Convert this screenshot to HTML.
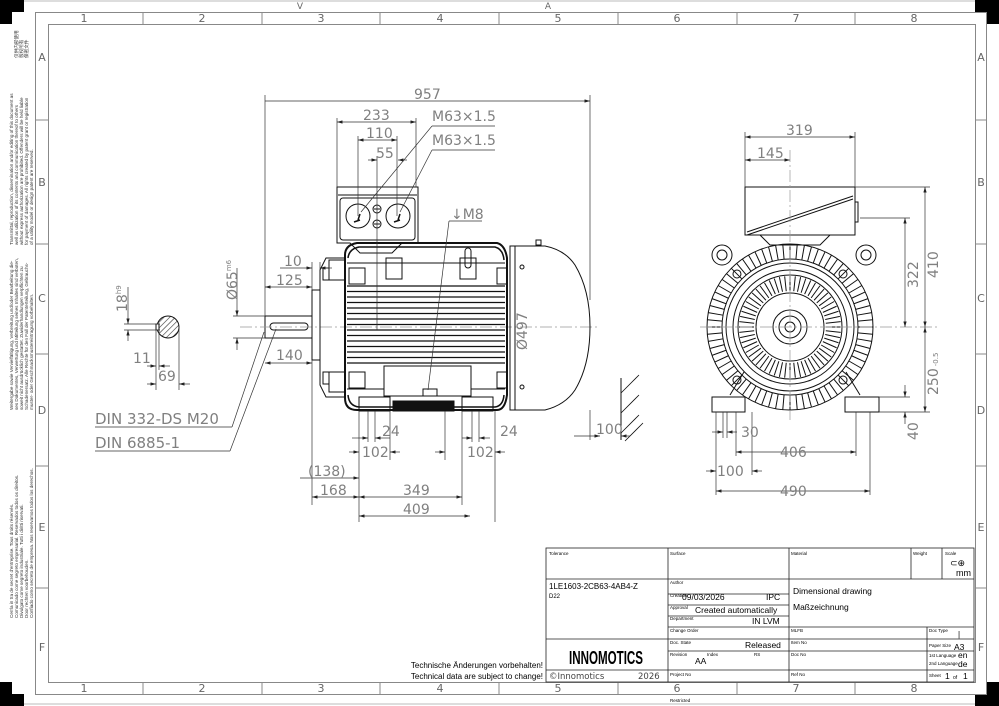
<!DOCTYPE html>
<html><head><meta charset="utf-8">
<style>
html,body{margin:0;padding:0;background:#fff;}
svg{display:block;font-family:"DejaVu Sans","Liberation Sans",sans-serif;}
.d{fill:#808080;font-size:14px;}
.t{fill:#000;font-family:"Liberation Sans",sans-serif;}
</style></head><body>
<svg id="s" width="999" height="706" viewBox="0 0 999 706" xmlns="http://www.w3.org/2000/svg">
<defs>
<marker id="a" viewBox="0 0 10 6" refX="10" refY="3" markerWidth="8" markerHeight="5" orient="auto-start-reverse"><path d="M0,0L10,3L0,6z" fill="#222"/></marker>
<pattern id="h" width="4" height="4" patternUnits="userSpaceOnUse" patternTransform="rotate(45)"><line x1="0" y1="0" x2="0" y2="4" stroke="#333" stroke-width="1.2"/></pattern>
</defs>
<line x1="0" y1="1" x2="999" y2="1" stroke="#bbb"/>
<line x1="0" y1="704" x2="999" y2="704" stroke="#bbb"/>
<path d="M0,0H24V12H12V24H0z" fill="#000"/>
<path d="M999,0H975V12H987V24H999z" fill="#000"/>
<path d="M0,706H24V694H12V682H0z" fill="#000"/>
<path d="M999,706H975V694H987V682H999z" fill="#000"/>
<rect x="35.5" y="12.5" width="951" height="682" fill="none" stroke="#888"/>
<rect x="48.5" y="24.5" width="927" height="658" fill="none" stroke="#888"/>
<g stroke="#888">
<line x1="143" y1="12" x2="143" y2="24"/><line x1="262" y1="12" x2="262" y2="24"/><line x1="380" y1="12" x2="380" y2="24"/><line x1="499" y1="12" x2="499" y2="24"/><line x1="618" y1="12" x2="618" y2="24"/><line x1="737" y1="12" x2="737" y2="24"/><line x1="855" y1="12" x2="855" y2="24"/>
<line x1="143" y1="682" x2="143" y2="694"/><line x1="262" y1="682" x2="262" y2="694"/><line x1="380" y1="682" x2="380" y2="694"/><line x1="499" y1="682" x2="499" y2="694"/><line x1="618" y1="682" x2="618" y2="694"/><line x1="737" y1="682" x2="737" y2="694"/><line x1="855" y1="682" x2="855" y2="694"/>
<line x1="35" y1="120" x2="48" y2="120"/><line x1="35" y1="244" x2="48" y2="244"/><line x1="35" y1="354" x2="48" y2="354"/><line x1="35" y1="466" x2="48" y2="466"/><line x1="35" y1="588" x2="48" y2="588"/>
<line x1="975" y1="120" x2="987" y2="120"/><line x1="975" y1="244" x2="987" y2="244"/><line x1="975" y1="354" x2="987" y2="354"/><line x1="975" y1="466" x2="987" y2="466"/><line x1="975" y1="588" x2="987" y2="588"/>
</g>
<g fill="#666" font-size="11" text-anchor="middle">
<text x="84" y="22">1</text><text x="202" y="22">2</text><text x="321" y="22">3</text><text x="440" y="22">4</text><text x="558" y="22">5</text><text x="677" y="22">6</text><text x="796" y="22">7</text><text x="914" y="22">8</text>
<text x="84" y="692">1</text><text x="202" y="692">2</text><text x="321" y="692">3</text><text x="440" y="692">4</text><text x="558" y="692">5</text><text x="677" y="692">6</text><text x="796" y="692">7</text><text x="914" y="692">8</text>
<text x="42" y="61">A</text><text x="42" y="186">B</text><text x="42" y="302">C</text><text x="42" y="414">D</text><text x="42" y="531">E</text><text x="42" y="651">F</text>
<text x="981" y="61">A</text><text x="981" y="186">B</text><text x="981" y="302">C</text><text x="981" y="414">D</text><text x="981" y="531">E</text><text x="981" y="651">F</text>
<text x="300" y="9" font-size="9">V</text><text x="548" y="9" font-size="9">A</text>
</g>
<g fill="#333" font-size="4.6" font-family="Liberation Sans,sans-serif">
<g transform="translate(13,245) rotate(-90)"><text>Transmittal, reproduction, dissemination and/or editing of this document as</text><text y="5">well as utilization of its contents and communication thereof to others</text><text y="10">without express authorization are prohibited. Offenders will be held liable</text><text y="15">for payment of damages. All rights created by patent grant or registration</text><text y="20">of a utility model or design patent are reserved.</text></g>
<g transform="translate(13,410) rotate(-90)"><text>Weitergabe sowie Vervielfältigung, Verbreitung und/oder Bearbeitung die-</text><text y="5">ses Dokumentes, Verwertung und Mitteilung seines Inhaltes sind verboten,</text><text y="10">soweit nicht ausdrücklich gestattet. Zuwiderhandlungen verpflichten zu</text><text y="15">Schadenersatz. Alle Rechte für den Fall der Patenterteilung, Gebrauchs-</text><text y="20">muster- oder Geschmacksmustereintragung vorbehalten.</text></g>
<g transform="translate(13,618) rotate(-90)"><text>Cerrla in tra de secret d'entreprise. Tous droits réservés.</text><text y="5">Comunicado come segreto empresarial. Reservados todos os direitos.</text><text y="10">Divulgato come segreto industriale. Tutti i diritti riservati.</text><text y="15">Door rechten voorbehouden.</text><text y="20">Confiado como secreto de empresa. Nos reservamos todos los derechos.</text></g>
<g transform="translate(18,58) rotate(-90)" font-family="Noto Sans CJK SC,sans-serif"><text>仅供内部使用</text><text y="5">版权所有</text><text y="10">保密文件</text></g>
</g>

<g id="draw" fill="none" stroke="#111" stroke-width="1">
<rect x="265" y="316" width="47" height="22"/>
<rect x="270" y="323" width="38" height="7" rx="3.5"/>
<line x1="240" y1="327" x2="600" y2="327" stroke="#999" stroke-dasharray="12 3 2 3" stroke-width=".7"/>
<rect x="312" y="290" width="8" height="70"/>
<path d="M320,270 L326,258 H345 V397 H326 L320,385 Z"/>
<rect x="329" y="260" width="16" height="20"/><rect x="329" y="372" width="16" height="20"/>
<rect x="323" y="268" width="6" height="12"/><rect x="323" y="372" width="6" height="12"/>
<path d="M345,255 Q345,245 357,243 H497 Q505,245 507,258 V395 Q505,410 497,410 H357 Q345,410 345,398 Z" stroke-width="2"/>
<path d="M348,258 Q349,249 359,247 H495 Q503,249 504,260" stroke-width="1.5"/>
<path d="M348,395 Q349,406 359,407 H495 Q503,406 504,395" stroke-width="1.5"/>
<rect x="386" y="258" width="16" height="21"/><rect x="460" y="258" width="16" height="21"/>
<rect x="465" y="248" width="6" height="20" rx="3"/>
<rect x="349" y="268" width="16" height="16"/><rect x="349" y="372" width="16" height="16"/>
<rect x="497" y="268" width="10" height="16"/><rect x="497" y="372" width="10" height="16"/>
<rect x="384" y="366" width="87" height="30" fill="#fff"/>
<rect x="423" y="389" width="14" height="7"/>
<g id="fins" stroke-width="1"></g>
<rect x="359" y="397" width="31" height="14"/><rect x="462" y="397" width="31" height="14"/>
<rect x="393" y="401" width="61" height="10" fill="#111"/>
<path d="M510,246 H545 Q565,250 575,265 Q590,290 590,327 Q590,365 575,390 Q565,405 545,410 H510 Z"/>
<line x1="515" y1="246" x2="515" y2="410"/>
<rect x="536" y="240" width="5" height="5"/>
<circle cx="522" cy="267" r="2"/><circle cx="522" cy="387" r="2"/>
<path d="M337,187 H418 V243 L402,243 L392,253 H360 L350,243 H337 Z"/>
<line x1="338" y1="195" x2="417" y2="195"/>
<rect x="340" y="198" width="75" height="42" rx="3"/>
<circle cx="358" cy="216" r="12"/><circle cx="398" cy="216" r="12"/>
<circle cx="377" cy="209" r="4"/><circle cx="377" cy="224" r="4"/>
<line x1="374" y1="209" x2="380" y2="209"/><line x1="374" y1="224" x2="380" y2="224"/>
<path d="M354,222l6,-2M358,220l2,-6M394,222l6,-2M398,220l2,-6" stroke-width="1.5"/>
<line x1="621" y1="378" x2="621" y2="440"/>
<path d="M621,393l18,-18M621,413l18,-18M621,433l18,-18M625,441l18,-18" stroke-width=".8"/>
<circle cx="168" cy="327" r="11" fill="url(#h)"/>
<rect x="156" y="324" width="3" height="6" fill="#fff"/>
<g id="ev"></g>
<path d="M745,187 H855 V235 H745 Z"/>
<line x1="747" y1="232" x2="853" y2="196"/><line x1="747" y1="235" x2="853" y2="199"/>
<rect x="855" y="202" width="3" height="20"/>
<path d="M760,235 L770,245 H820 L830,235"/>
<circle cx="722" cy="255" r="10"/><circle cx="722" cy="255" r="5"/>
<circle cx="866" cy="255" r="10"/><circle cx="866" cy="255" r="5"/>
<rect x="712" y="397" width="33" height="15"/><rect x="845" y="397" width="34" height="15"/>
<line x1="730" y1="395" x2="744" y2="372"/><line x1="860" y1="395" x2="846" y2="372"/>
</g>

<g stroke="#333" stroke-width=".7" fill="none">
<line x1="265" y1="101" x2="590" y2="101" marker-end="url(#a)"/>
<line x1="265" y1="95" x2="265" y2="316"/><line x1="590" y1="95" x2="590" y2="300"/>
<line x1="337" y1="122" x2="416" y2="122" marker-start="url(#a)" marker-end="url(#a)"/>
<line x1="337" y1="118" x2="337" y2="187"/><line x1="416" y1="118" x2="416" y2="187"/>
<line x1="358" y1="140" x2="397" y2="140" marker-start="url(#a)" marker-end="url(#a)"/>
<line x1="358" y1="136" x2="358" y2="216"/><line x1="397" y1="136" x2="397" y2="216"/>
<line x1="368" y1="160" x2="377" y2="160" marker-end="url(#a)"/><line x1="407" y1="160" x2="398" y2="160" marker-end="url(#a)"/>
<line x1="377" y1="156" x2="377" y2="330"/>
<line x1="432" y1="126" x2="495" y2="126"/><line x1="432" y1="126" x2="361" y2="212"/>
<line x1="432" y1="150" x2="495" y2="150"/><line x1="432" y1="150" x2="400" y2="212"/>
<line x1="449" y1="221" x2="482" y2="221"/><line x1="449" y1="221" x2="428" y2="390"/>
<line x1="280" y1="268" x2="312" y2="268" marker-end="url(#a)"/><line x1="332" y1="268" x2="320" y2="268" marker-end="url(#a)"/>
<line x1="312" y1="262" x2="312" y2="290"/><line x1="320" y1="262" x2="320" y2="270"/>
<line x1="265" y1="287" x2="312" y2="287" marker-start="url(#a)" marker-end="url(#a)"/>
<line x1="237" y1="268" x2="237" y2="316" marker-end="url(#a)"/><line x1="237" y1="350" x2="237" y2="338" marker-end="url(#a)"/>
<line x1="233" y1="316" x2="265" y2="316"/><line x1="233" y1="338" x2="265" y2="338"/>
<line x1="265" y1="363" x2="312" y2="363" marker-start="url(#a)" marker-end="url(#a)"/>
<line x1="312" y1="360" x2="312" y2="505"/>
<line x1="95" y1="427" x2="232" y2="427"/><line x1="232" y1="427" x2="264" y2="332"/>
<line x1="95" y1="451" x2="230" y2="451"/><line x1="230" y1="451" x2="276" y2="329"/>
<line x1="128" y1="287" x2="128" y2="324" marker-end="url(#a)"/><line x1="128" y1="341" x2="128" y2="330" marker-end="url(#a)"/>
<line x1="124" y1="324" x2="160" y2="324"/><line x1="124" y1="330" x2="160" y2="330"/>
<line x1="147" y1="366" x2="156" y2="366" marker-end="url(#a)"/><line x1="170" y1="366" x2="159" y2="366" marker-end="url(#a)"/>
<line x1="156" y1="330" x2="156" y2="390"/><line x1="159" y1="330" x2="159" y2="370"/><line x1="179" y1="327" x2="179" y2="390"/>
<line x1="147" y1="384" x2="156" y2="384" marker-end="url(#a)"/><line x1="190" y1="384" x2="179" y2="384" marker-end="url(#a)"/>
<line x1="359" y1="411" x2="359" y2="522"/><line x1="368" y1="411" x2="368" y2="442"/><line x1="375" y1="411" x2="375" y2="442"/>
<line x1="390" y1="411" x2="390" y2="460"/>
<line x1="472" y1="411" x2="472" y2="442"/><line x1="479" y1="411" x2="479" y2="442"/><line x1="462" y1="411" x2="462" y2="505"/>
<line x1="495" y1="411" x2="495" y2="522"/><line x1="445" y1="411" x2="445" y2="460"/>
<line x1="352" y1="438" x2="368" y2="438" marker-end="url(#a)"/><line x1="390" y1="438" x2="375" y2="438" marker-end="url(#a)"/>
<line x1="462" y1="438" x2="472" y2="438" marker-end="url(#a)"/><line x1="490" y1="438" x2="479" y2="438" marker-end="url(#a)"/>
<line x1="349" y1="452" x2="359" y2="452" marker-end="url(#a)"/><line x1="400" y1="452" x2="390" y2="452" marker-end="url(#a)"/>
<line x1="435" y1="452" x2="445" y2="452" marker-end="url(#a)"/><line x1="505" y1="452" x2="495" y2="452" marker-end="url(#a)"/>
<line x1="300" y1="478" x2="359" y2="478" marker-end="url(#a)"/>
<line x1="312" y1="497" x2="359" y2="497" marker-start="url(#a)" marker-end="url(#a)"/>
<line x1="359" y1="497" x2="462" y2="497" marker-start="url(#a)" marker-end="url(#a)"/>
<line x1="359" y1="516" x2="470" y2="516" marker-start="url(#a)" marker-end="url(#a)"/>
<line x1="574" y1="436" x2="600" y2="436" marker-end="url(#a)"/><line x1="630" y1="436" x2="621" y2="436" marker-end="url(#a)"/>
<line x1="590" y1="410" x2="590" y2="440"/>
<line x1="745" y1="137" x2="855" y2="137" marker-start="url(#a)" marker-end="url(#a)"/>
<line x1="745" y1="132" x2="745" y2="187"/><line x1="855" y1="132" x2="855" y2="187"/>
<line x1="745" y1="160" x2="790" y2="160" marker-start="url(#a)" marker-end="url(#a)"/>
<line x1="790" y1="150" x2="790" y2="420" stroke="#999" stroke-dasharray="12 3 2 3"/>
<line x1="700" y1="327" x2="940" y2="327" stroke="#999" stroke-dasharray="12 3 2 3"/>
<line x1="855" y1="187" x2="930" y2="187"/><line x1="860" y1="218" x2="910" y2="218"/>
<line x1="925" y1="187" x2="925" y2="327" marker-start="url(#a)" marker-end="url(#a)"/>
<line x1="905" y1="218" x2="905" y2="327" marker-start="url(#a)" marker-end="url(#a)"/>
<line x1="925" y1="327" x2="925" y2="412" marker-start="url(#a)" marker-end="url(#a)"/>
<line x1="879" y1="412" x2="930" y2="412"/><line x1="879" y1="397" x2="910" y2="397"/>
<line x1="905" y1="385" x2="905" y2="397" marker-end="url(#a)"/><line x1="905" y1="424" x2="905" y2="412" marker-end="url(#a)"/>
<line x1="716" y1="412" x2="716" y2="495"/><line x1="723" y1="412" x2="723" y2="438"/><line x1="727" y1="412" x2="727" y2="438"/>
<line x1="736" y1="412" x2="736" y2="456"/><line x1="752" y1="412" x2="752" y2="475"/><line x1="856" y1="412" x2="856" y2="456"/><line x1="870" y1="412" x2="870" y2="495"/>
<line x1="712" y1="432" x2="723" y2="432" marker-end="url(#a)"/><line x1="737" y1="432" x2="727" y2="432" marker-end="url(#a)"/>
<line x1="736" y1="452" x2="856" y2="452" marker-start="url(#a)" marker-end="url(#a)"/>
<line x1="706" y1="471" x2="716" y2="471" marker-end="url(#a)"/><line x1="762" y1="471" x2="752" y2="471" marker-end="url(#a)"/>
<line x1="716" y1="491" x2="870" y2="491" marker-start="url(#a)" marker-end="url(#a)"/>
</g>
<g class="d">
<text x="414" y="99">957</text><text x="363" y="120">233</text><text x="366" y="138">110</text><text x="376" y="158">55</text>
<text x="432" y="121">M63×1.5</text><text x="432" y="145">M63×1.5</text><text x="451" y="219">↓M8</text>
<text x="284" y="266">10</text><text x="276" y="285">125</text><text x="276" y="360">140</text>
<text transform="translate(237,300) rotate(-90)">Ø65<tspan font-size="7" dy="-6">m6</tspan></text>
<text transform="translate(127,312) rotate(-90)">18<tspan font-size="7" dy="-6">h9</tspan></text>
<text x="133" y="363">11</text><text x="158" y="381">69</text>
<text x="95" y="424" font-size="15">DIN 332-DS M20</text><text x="95" y="448" font-size="15">DIN 6885-1</text>
<text transform="translate(527,350) rotate(-90)">Ø497</text>
<text x="382" y="436">24</text><text x="500" y="436">24</text>
<text x="362" y="457">102</text><text x="467" y="457">102</text>
<text x="308" y="476">(138)</text><text x="320" y="495">168</text><text x="403" y="495">349</text><text x="403" y="514">409</text>
<text x="596" y="434">100</text>
<text x="786" y="135">319</text><text x="757" y="158">145</text>
<text transform="translate(938,278) rotate(-90)">410</text><text transform="translate(918,288) rotate(-90)">322</text>
<text transform="translate(938,395) rotate(-90)">250<tspan font-size="7" dx="2">-0.5</tspan></text>
<text transform="translate(918,440) rotate(-90)">40</text>
<text x="741" y="437">30</text><text x="780" y="457">406</text><text x="717" y="476">100</text><text x="780" y="496">490</text>
</g>

<g stroke="#222" stroke-width=".8" fill="none">
<rect x="546" y="548" width="428" height="134"/>
<line x1="546" y1="579" x2="974" y2="579"/>
<line x1="668" y1="548" x2="668" y2="682"/><line x1="789" y1="548" x2="789" y2="682"/>
<line x1="911" y1="548" x2="911" y2="579"/><line x1="942" y1="548" x2="942" y2="579"/>
<line x1="668" y1="594" x2="789" y2="594"/><line x1="668" y1="605" x2="789" y2="605"/><line x1="668" y1="616" x2="789" y2="616"/>
<line x1="668" y1="627" x2="974" y2="627"/>
<line x1="546" y1="639" x2="974" y2="639"/><line x1="668" y1="651" x2="974" y2="651"/>
<line x1="546" y1="670" x2="974" y2="670"/>
<line x1="927" y1="627" x2="927" y2="682"/>
</g>
<g class="t" font-size="4.5">
<text x="549" y="555">Tolerance</text><text x="670" y="555">Surface</text><text x="791" y="555">Material</text><text x="913" y="555">Weight</text><text x="945" y="555">Scale</text>
<text x="670" y="584">Author</text><text x="670" y="597">Creation</text><text x="670" y="609">Approval</text><text x="670" y="620">Department</text>
<text x="670" y="632">Change Order</text><text x="791" y="632">MLFB</text><text x="929" y="632">Doc Type</text>
<text x="670" y="644">Doc. State</text><text x="791" y="644">Item No</text><text x="929" y="647">Paper Size</text>
<text x="670" y="656">Revision</text><text x="707" y="656">Index</text><text x="754" y="656">RS</text><text x="791" y="656">Doc No</text><text x="929" y="657">1st Language</text><text x="929" y="665">2nd Language</text>
<text x="670" y="676">Project No</text><text x="791" y="676">Ref No</text><text x="929" y="677">Sheet</text>
<text x="670" y="702">Restricted</text>
</g>
<g class="t">
<text x="956" y="576" font-size="9">mm</text><text x="950" y="566" font-size="9">⊂⊕</text>
<text x="549" y="589" font-size="8">1LE1603-2CB63-4AB4-Z</text><text x="549" y="598" font-size="6">D22</text>
<text x="682" y="600" font-size="8.5">09/03/2026</text><text x="766" y="600" font-size="8.5">IPC</text>
<text x="695" y="613" font-size="8.5">Created automatically</text><text x="752" y="624" font-size="8.5">IN LVM</text>
<text x="793" y="594" font-size="8.5">Dimensional drawing</text><text x="793" y="610" font-size="8.5">Maßzeichnung</text>
<text x="745" y="648" font-size="8.5">Released</text><text x="695" y="664" font-size="8.5">AA</text>
<text x="954" y="650" font-size="8.5">A3</text><text x="958" y="658" font-size="8.5">en</text><text x="958" y="667" font-size="8.5">de</text>
<text x="945" y="679" font-size="8.5">1</text><text x="953" y="679" font-size="5">of</text><text x="963" y="679" font-size="8.5">1</text>
<text x="958" y="637" font-size="8">|</text>
<text x="569" y="664" font-size="18" font-weight="bold" textLength="74" lengthAdjust="spacingAndGlyphs">INNOMOTICS</text>
<text x="549" y="679" font-size="8.5" fill="#444" font-family="DejaVu Sans,sans-serif">©Innomotics</text><text x="638" y="679" font-size="8.5" fill="#444" font-family="DejaVu Sans,sans-serif">2026</text>
<text x="543" y="668" font-size="8" text-anchor="end">Technische Änderungen vorbehalten!</text>
<text x="543" y="679" font-size="8" text-anchor="end">Technical data are subject to change!</text>
</g>
</svg>
<script>
(function(){
var NS="http://www.w3.org/2000/svg";
function ln(g,x1,y1,x2,y2,w){var l=document.createElementNS(NS,"line");l.setAttribute("x1",x1);l.setAttribute("y1",y1);l.setAttribute("x2",x2);l.setAttribute("y2",y2);if(w)l.setAttribute("stroke-width",w);g.appendChild(l);}
function ci(g,cx,cy,r,w){var c=document.createElementNS(NS,"circle");c.setAttribute("cx",cx);c.setAttribute("cy",cy);c.setAttribute("r",r);if(w)c.setAttribute("stroke-width",w);g.appendChild(c);}
var f=document.getElementById("fins");
for(var y=286;y<=364;y+=5.5){ln(f,347,y,505,y,1.2);}
ln(f,347,263,505,263,1);ln(f,347,389,384,389,1);ln(f,471,389,505,389,1);
var e=document.getElementById("ev");var cx=790,cy=327;
ci(e,cx,cy,83);ci(e,cx,cy,68);ci(e,cx,cy,64);ci(e,cx,cy,57);ci(e,cx,cy,52);ci(e,cx,cy,34);ci(e,cx,cy,17);ci(e,cx,cy,11);ci(e,cx,cy,5);
for(var a=0;a<360;a+=5){var r=a*Math.PI/180;ln(e,cx+68*Math.cos(r),cy+68*Math.sin(r),cx+83*Math.cos(r),cy+83*Math.sin(r));}
for(var a=0;a<360;a+=6){var r=a*Math.PI/180;ln(e,cx+36*Math.cos(r),cy+36*Math.sin(r),cx+51*Math.cos(r),cy+51*Math.sin(r));}
[-135,-45,45,135].forEach(function(p){var r=p*Math.PI/180;ci(e,cx+75*Math.cos(r),cy+75*Math.sin(r),4);});
})();
</script>
</body></html>
